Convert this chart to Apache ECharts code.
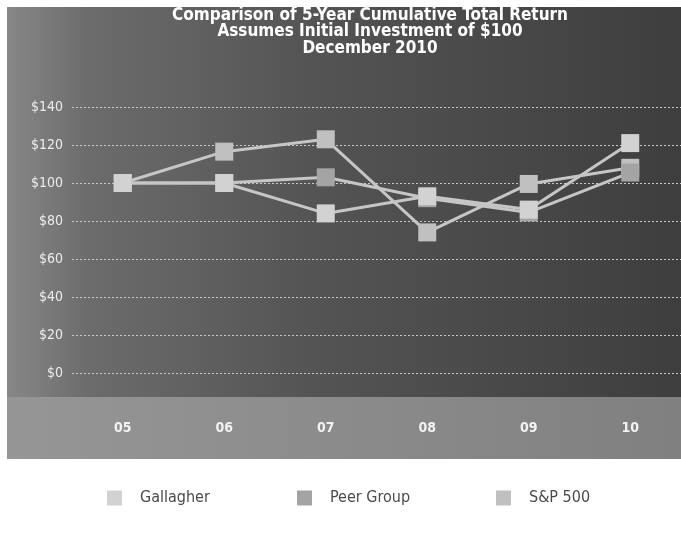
<!DOCTYPE html>
<html>
<head>
<meta charset="utf-8">
<script src="https://cdn.jsdelivr.net/npm/echarts@6/dist/echarts.min.js"></script>
<style>
  html, body { margin: 0; padding: 0; background: #fff; }
  #chart { width: 681px; height: 536px; }
</style>
</head>
<body>
<div id="chart"></div>
<script>
// years on the x axis
const years = ['05', '06', '07', '08', '09', '10'];

// cumulative total return
const gallagher = [100, 100, 84, 93, 86, 121];
const peerGroup = [100, 100, 103, 92, 84.5, 105.5];
const sp500 = [100, 116.5, 123, 74, 99.5, 108];

const seriesNames = ['Gallagher', 'Peer Group', 'S&P 500'];
const markerColors = ['#d2d2d2', '#a4a4a4', '#c0c0c0'];
const yTicks = [0, 20, 40, 60, 80, 100, 120, 140];

const chart = echarts.init(document.getElementById('chart'));

const lineLayer = (name, data) => ({
  name: name,
  type: 'line',
  data: data,
  showSymbol: false,
  z: 2,
  lineStyle: { color: '#c6c6c6', width: 3 },
  itemStyle: { color: '#c6c6c6' },
  emphasis: { disabled: true }
});

const markerLayer = (name, data, color) => ({
  name: name,
  type: 'scatter',
  data: data,
  symbol: 'rect',
  symbolSize: 18,
  z: 3,
  itemStyle: { color: color, opacity: 1 },
  emphasis: { disabled: true }
});

const legendAt = (left, i) => ({
  left: left,
  top: 485,
  itemWidth: 15,
  itemHeight: 15,
  data: [{ name: seriesNames[i], icon: 'rect', itemStyle: { color: markerColors[i] } }],
  textStyle: {
    color: '#4a4a4a',
    fontSize: 16,
    fontFamily: '"Liberation Sans Narrow", "DejaVu Sans Condensed", sans-serif',
    padding: [0, 0, 0, 13]
  }
});

chart.setOption({
  animation: false,
  graphic: [
    {
      type: 'rect',
      z: -10,
      shape: { x: 7, y: 7, width: 674, height: 452 },
      style: {
        fill: new echarts.graphic.LinearGradient(0, 0, 1, 0, [
          { offset: 0, color: '#878787' },
          { offset: 0.12, color: '#6c6c6c' },
          { offset: 0.45, color: '#545454' },
          { offset: 1, color: '#3e3e3e' }
        ])
      }
    },
    {
      type: 'rect',
      z: -9,
      shape: { x: 7, y: 397, width: 674, height: 62 },
      style: {
        fill: new echarts.graphic.LinearGradient(0, 0, 1, 0, [
          { offset: 0, color: '#969696' },
          { offset: 1, color: '#808080' }
        ])
      }
    }
  ],
  title: {
    text: 'Comparison of 5-Year Cumulative Total Return\nAssumes Initial Investment of $100\nDecember 2010',
    left: 365,
    top: 2,
    textAlign: 'center',
    textStyle: {
      color: '#ffffff',
      fontSize: 17,
      fontWeight: 'bold',
      lineHeight: 16.5,
      fontFamily: '"DejaVu Sans Condensed", "Liberation Sans Narrow", sans-serif'
    }
  },
  legend: [legendAt(102, 0), legendAt(292, 1), legendAt(491, 2)],
  grid: { left: 72, right: 0, top: 107, bottom: 163 },
  xAxis: {
    type: 'category',
    data: years,
    boundaryGap: true,
    axisLine: { show: false },
    axisTick: { show: false },
    axisLabel: {
      margin: 48,
      color: '#f2f2f2',
      fontSize: 14,
      fontWeight: 'bold',
      fontFamily: '"Liberation Sans Narrow", "DejaVu Sans Condensed", sans-serif'
    }
  },
  yAxis: {
    type: 'value',
    min: yTicks[0],
    max: yTicks[yTicks.length - 1],
    interval: 20,
    axisLine: { show: false },
    axisTick: { show: false },
    splitLine: { lineStyle: { color: '#c8c8c8', width: 1, type: [2, 2] } },
    axisLabel: {
      margin: 9,
      color: '#ececec',
      fontSize: 14,
      fontFamily: '"Liberation Sans Narrow", "DejaVu Sans Condensed", sans-serif',
      formatter: v => '$' + v
    }
  },
  series: [
    lineLayer(seriesNames[2], sp500),
    lineLayer(seriesNames[1], peerGroup),
    lineLayer(seriesNames[0], gallagher),
    markerLayer(seriesNames[2], sp500, markerColors[2]),
    markerLayer(seriesNames[1], peerGroup, markerColors[1]),
    markerLayer(seriesNames[0], gallagher, markerColors[0])
  ]
});
</script>
</body>
</html>
